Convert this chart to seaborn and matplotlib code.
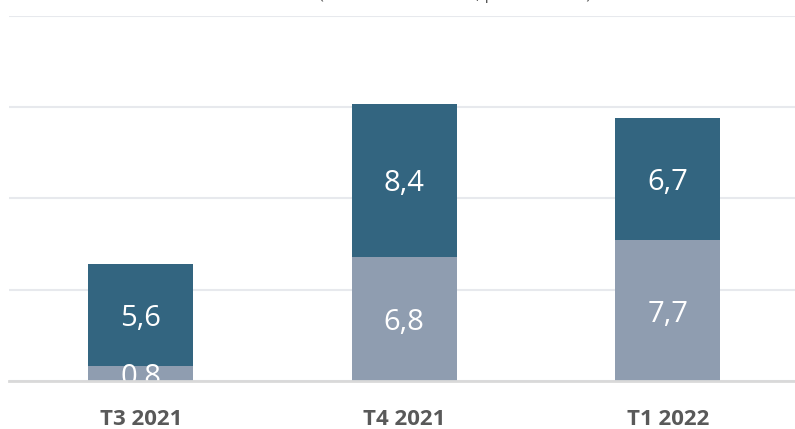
import matplotlib
matplotlib.use("Agg")
import matplotlib.pyplot as plt
import seaborn as sns
import pandas as pd

# data
periods = ["T3 2021", "T4 2021", "T1 2022"]
bottom_vals = [0.8, 6.8, 7.7]
top_vals = [5.6, 8.4, 6.7]

dark = "#336580"
light = "#8f9db0"

sns.set_theme(style="white")
plt.rcParams["font.family"] = ["Open Sans", "DejaVu Sans"]

df = pd.DataFrame({"period": periods, "bottom": bottom_vals, "top": top_vals})
df["total"] = df["bottom"] + df["top"]

fig = plt.figure(figsize=(7.95, 4.29), dpi=100)
ax = fig.add_axes([0.0113, 0.1119, 0.9943, 0.8508])

sns.barplot(data=df, x="period", y="total", color=dark, saturation=1,
            width=0.4, linewidth=0, ax=ax, zorder=3)
sns.barplot(data=df, x="period", y="bottom", color=light, saturation=1,
            width=0.4, linewidth=0, ax=ax, zorder=3)

ax.set_ylim(0, 20)
ax.set_xlim(-0.5, 2.5)
ax.set_yticks([0, 5, 10, 15, 20])
ax.yaxis.grid(True, color="#e7e9ed", linewidth=1.5, zorder=0)
ax.set_axisbelow(True)
ax.tick_params(axis="y", left=False, labelleft=False)
ax.tick_params(axis="x", bottom=False, pad=14)
ax.set_xlabel("")
ax.set_ylabel("")
for lab in ax.get_xticklabels():
    lab.set_fontsize(16)
    lab.set_fontweight("bold")
    lab.set_color("#595959")

for s in ["top", "right", "left"]:
    ax.spines[s].set_visible(False)
ax.spines["bottom"].set_color("#d9d9d9")
ax.spines["bottom"].set_linewidth(2)
ax.spines["bottom"].set_zorder(5)

for i, (b, t) in enumerate(zip(bottom_vals, top_vals)):
    ax.text(i, b / 2, f"{b:.1f}".replace(".", ","), ha="center",
            va="center_baseline", color="white", fontsize=21, zorder=4,
            clip_on=True)
    ax.text(i, b + t / 2, f"{t:.1f}".replace(".", ","), ha="center",
            va="center_baseline", color="white", fontsize=21, zorder=4,
            clip_on=True)

# title cut off at the top of the image
fig.text(0.572, 1.003, "(en milliards d'euros, par trimestre)", ha="center",
         va="baseline", fontsize=12, color="#595959")

fig.savefig("out.png", dpi=100)
